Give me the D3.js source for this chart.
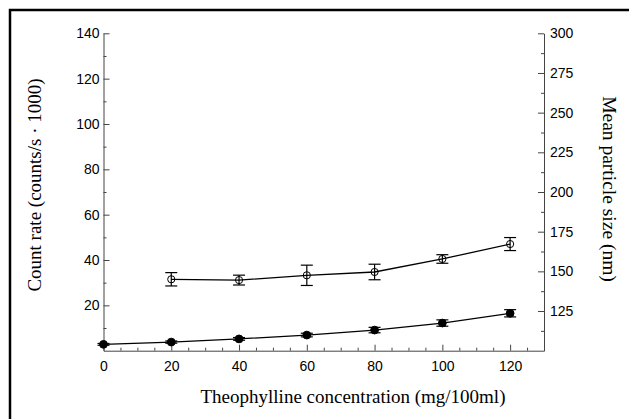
<!DOCTYPE html>
<html>
<head>
<meta charset="utf-8">
<script src="https://cdn.jsdelivr.net/npm/d3@7"></script>
<style>
  html, body { margin: 0; padding: 0; background: #fff; }
  svg { display: block; }
</style>
</head>
<body>
<script>
// ---- Data ----
const concentration = [0, 20, 40, 60, 80, 100, 120];
const countRate = [2.8, 3.8, 5.2, 6.9, 9.1, 12.2, 16.5];
const countRateErr = [0.4, 0.5, 0.6, 0.8, 1.2, 1.4, 1.6];
const sizeConcentration = [20, 40, 60, 80, 100, 120];
const particleSize = [145.0, 144.5, 147.5, 149.6, 157.8, 167.2];
const particleSizeErr = [4.2, 3.1, 6.4, 4.9, 2.7, 4.1];
const xTicks = [0, 20, 40, 60, 80, 100, 120];
const leftTicks = [20, 40, 60, 80, 100, 120, 140];
const rightTicks = [125, 150, 175, 200, 225, 250, 275, 300];
const xTitle = "Theophylline concentration (mg/100ml)";
const leftTitle = "Count rate (counts/s \u00B7 1000)";
const rightTitle = "Mean particle size (nm)";

const W = 629, H = 419;
const plot = { left: 103.5, right: 544, top: 33.3, bottom: 350.7 };

const svg = d3.select("body").append("svg").attr("width", W).attr("height", H);

// frame (left and top edges visible)
svg.append("rect").attr("x", 10).attr("y", 10).attr("width", W + 20).attr("height", H + 20)
  .attr("fill", "none").attr("stroke", "#000").attr("stroke-width", 2.5);

const x = d3.scaleLinear().domain([0, 130]).range([plot.left, plot.right]);
const yL = d3.scaleLinear().domain([0, 140]).range([plot.bottom, plot.top]);
const yR = d3.scaleLinear().domain([100, 300]).range([plot.bottom, plot.top]);

const tickFont = "'Liberation Sans', Arial, Helvetica, sans-serif";
const titleFont = "'Liberation Serif', 'Times New Roman', Times, serif";
const axisColor = "#444";

function styleAxis(g) {
  g.selectAll("path.domain").attr("stroke", axisColor).attr("stroke-width", 1);
  g.selectAll(".tick line").attr("stroke", axisColor).attr("stroke-width", 1);
  g.selectAll(".tick text").attr("fill", "#000").style("font-family", tickFont).style("font-size", "14px");
}

// minor ticks
const xMinor = d3.range(0, 131, 5).filter(v => v % 20 !== 0);
const lMinor = d3.range(10, 140, 20);
const rMinor = d3.range(112.5, 300, 25);

const gx = svg.append("g").attr("transform", `translate(0,${plot.bottom})`)
  .call(d3.axisBottom(x).tickValues(xTicks).tickSize(-6).tickSizeOuter(0).tickPadding(10).tickFormat(d3.format("d")));
styleAxis(gx);
gx.selectAll("line.minor").data(xMinor).enter().append("line").attr("class", "minor")
  .attr("x1", d => x(d) + 0.5).attr("x2", d => x(d) + 0.5).attr("y1", 0).attr("y2", -3)
  .attr("stroke", axisColor);

const gl = svg.append("g").attr("transform", `translate(${plot.left},0)`)
  .call(d3.axisLeft(yL).tickValues(leftTicks).tickSize(-6).tickSizeOuter(0).tickPadding(4));
styleAxis(gl);
gl.selectAll("line.minor").data(lMinor).enter().append("line").attr("class", "minor")
  .attr("y1", d => yL(d) + 0.5).attr("y2", d => yL(d) + 0.5).attr("x1", 0).attr("x2", 3)
  .attr("stroke", axisColor);

const gr = svg.append("g").attr("transform", `translate(${plot.right},0)`)
  .call(d3.axisRight(yR).tickValues(rightTicks).tickSize(-6).tickSizeOuter(0).tickPadding(6));
styleAxis(gr);
gr.selectAll("line.minor").data(rMinor).enter().append("line").attr("class", "minor")
  .attr("y1", d => yR(d) + 0.5).attr("y2", d => yR(d) + 0.5).attr("x1", 0).attr("x2", -3)
  .attr("stroke", axisColor);

// titles
svg.append("text").attr("x", 353).attr("y", 403).attr("text-anchor", "middle")
  .style("font-family", titleFont).style("font-size", "19px").text(xTitle);
svg.append("text").attr("transform", "translate(41,185) rotate(-90)").attr("text-anchor", "middle")
  .style("font-family", titleFont).style("font-size", "19px").text(leftTitle);
svg.append("text").attr("transform", "translate(603,189) rotate(90)").attr("text-anchor", "middle")
  .style("font-family", titleFont).style("font-size", "19.5px").text(rightTitle);

// series: count rate (filled, left axis)
const countData = concentration.map((c, i) => ({ x: c, y: countRate[i], e: countRateErr[i] }));
const sizeData = sizeConcentration.map((c, i) => ({ x: c, y: particleSize[i], e: particleSizeErr[i] }));

function drawSeries(data, yScale, filled) {
  const g = svg.append("g");
  g.append("path").datum(data)
    .attr("d", d3.line().x(d => x(d.x)).y(d => yScale(d.y)))
    .attr("fill", "none").attr("stroke", "#000").attr("stroke-width", 1.3);
  const cap = 6;
  const eb = g.selectAll("g.eb").data(data).enter().append("g");
  eb.append("line").attr("x1", d => x(d.x)).attr("x2", d => x(d.x))
    .attr("y1", d => yScale(d.y - d.e)).attr("y2", d => yScale(d.y + d.e))
    .attr("stroke", "#000").attr("stroke-width", 1.2);
  eb.append("line").attr("x1", d => x(d.x) - cap).attr("x2", d => x(d.x) + cap)
    .attr("y1", d => yScale(d.y + d.e)).attr("y2", d => yScale(d.y + d.e))
    .attr("stroke", "#000").attr("stroke-width", 1.2);
  eb.append("line").attr("x1", d => x(d.x) - cap).attr("x2", d => x(d.x) + cap)
    .attr("y1", d => yScale(d.y - d.e)).attr("y2", d => yScale(d.y - d.e))
    .attr("stroke", "#000").attr("stroke-width", 1.2);
  g.selectAll("circle").data(data).enter().append("circle")
    .attr("cx", d => x(d.x)).attr("cy", d => yScale(d.y))
    .attr("r", filled ? 3.9 : 3.6)
    .attr("fill", filled ? "#000" : "none")
    .attr("stroke", "#000").attr("stroke-width", 1);
}
drawSeries(countData, yL, true);
drawSeries(sizeData, yR, false);
</script>
</body>
</html>
